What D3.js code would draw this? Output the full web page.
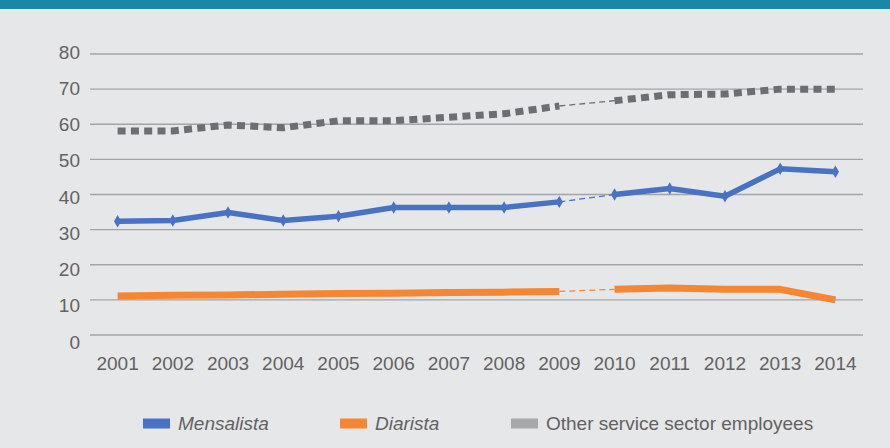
<!DOCTYPE html>
<html>
<head>
<meta charset="utf-8">
<script src="https://cdnjs.cloudflare.com/ajax/libs/d3/7.8.5/d3.min.js"></script>
<style>
  body { margin: 0; background: #e6e7e9; }
  svg { display: block; font-family: "Liberation Sans", Arial, sans-serif; }
</style>
</head>
<body>
<svg width="890" height="448"></svg>
<script>
var years = ["2001", "2002", "2003", "2004", "2005", "2006", "2007", "2008", "2009", "2010", "2011", "2012", "2013", "2014"];
var mensalista = [32.4, 32.6, 34.9, 32.6, 33.8, 36.3, 36.3, 36.3, 37.9, 40.0, 41.7, 39.5, 47.3, 46.5];
var diarista = [11.1, 11.3, 11.4, 11.6, 11.8, 11.9, 12.1, 12.2, 12.4, 13.0, 13.4, 13.0, 13.0, 10.0];
var otherService = [58.1, 58.1, 59.8, 59.0, 61.0, 61.0, 62.0, 63.0, 65.2, 66.7, 68.4, 68.6, 70.0, 70.0];
var yTicks = [0, 10, 20, 30, 40, 50, 60, 70, 80];
// survey break: thin dashed link between these two years
var breakAfter = "2009";

var series = [
  { name: "Mensalista", values: mensalista, color: "#4a72c4", width: 5.5, dash: null, marker: true, italic: true },
  { name: "Diarista", values: diarista, color: "#f58634", width: 7, dash: null, marker: false, italic: true },
  { name: "Other service sector employees", values: otherService, color: "#6d6e71", width: 7, dash: "8,5.3", marker: false, italic: false, legendColor: "#a7a8aa" }
];

var svg = d3.select("svg");

svg.append("rect").attr("x", 0).attr("y", 0).attr("width", 890).attr("height", 9).attr("fill", "#1b87a8");

var x = d3.scaleBand().domain(years).range([90, 863]);
var y = d3.scaleLinear().domain([0, 80]).range([335, 54]);
// tick labels sit a little wider apart than the grid in the original
var yLab = d3.scaleLinear().domain([0, 80]).range([341.5, 51.5]);

var xc = function (d) { return x(d) + x.bandwidth() / 2; };

// grid
svg.append("g")
  .selectAll("line")
  .data(yTicks)
  .enter()
  .append("line")
  .attr("x1", 90).attr("x2", 863)
  .attr("y1", function (d) { return y(d); })
  .attr("y2", function (d) { return y(d); })
  .attr("stroke", "#a3a4a6")
  .attr("stroke-width", 1.3);

var yAxis = svg.append("g")
  .attr("transform", "translate(80,0)")
  .call(d3.axisLeft(yLab).tickValues(yTicks).tickSize(0).tickPadding(0));
yAxis.select(".domain").remove();
yAxis.selectAll("text").attr("fill", "#626262").style("font-size", "19px")
  .attr("dy", "0.35em");

var xAxis = svg.append("g")
  .attr("transform", "translate(0,363)")
  .call(d3.axisBottom(x).tickSize(0).tickPadding(0));
xAxis.select(".domain").remove();
xAxis.selectAll("text").attr("fill", "#626262").style("font-size", "19px")
  .attr("dy", "0.35em");

var line = d3.line()
  .x(function (d) { return xc(d.year); })
  .y(function (d) { return y(d.v); });

var bi = years.indexOf(breakAfter);

series.forEach(function (s) {
  var pts = years.map(function (yr, i) { return { year: yr, v: s.values[i] }; });
  var first = pts.slice(0, bi + 1);
  var second = pts.slice(bi + 1);
  var g = svg.append("g");

  g.append("path")
    .attr("d", line([pts[bi], pts[bi + 1]]))
    .attr("fill", "none")
    .attr("stroke", s.color)
    .attr("stroke-width", 1.3)
    .attr("stroke-dasharray", "6,4");

  [first, second].forEach(function (seg) {
    g.append("path")
      .attr("d", line(seg))
      .attr("fill", "none")
      .attr("stroke", s.color)
      .attr("stroke-width", s.width)
      .attr("stroke-linejoin", "round")
      .attr("stroke-dasharray", s.dash);
  });

  if (s.marker) {
    g.selectAll("path.mk")
      .data(pts)
      .enter()
      .append("path")
      .attr("class", "mk")
      .attr("d", d3.symbol().type(d3.symbolDiamond).size(45))
      .attr("transform", function (d) { return "translate(" + xc(d.year) + "," + y(d.v) + ")"; })
      .attr("fill", s.color);
  }
});

// legend
var legendX = [143, 340, 511];
var legend = svg.append("g");
series.forEach(function (s, i) {
  var lg = legend.append("g").attr("transform", "translate(" + legendX[i] + ",423.5)");
  lg.append("rect").attr("x", 0).attr("y", -5).attr("width", 27).attr("height", 10)
    .attr("fill", s.legendColor || s.color);
  lg.append("text").attr("x", 35).attr("y", 0).attr("dy", "0.35em")
    .attr("fill", "#626262").style("font-size", "19px")
    .style("font-style", s.italic ? "italic" : "normal")
    .text(s.name);
});
</script>
</body>
</html>
